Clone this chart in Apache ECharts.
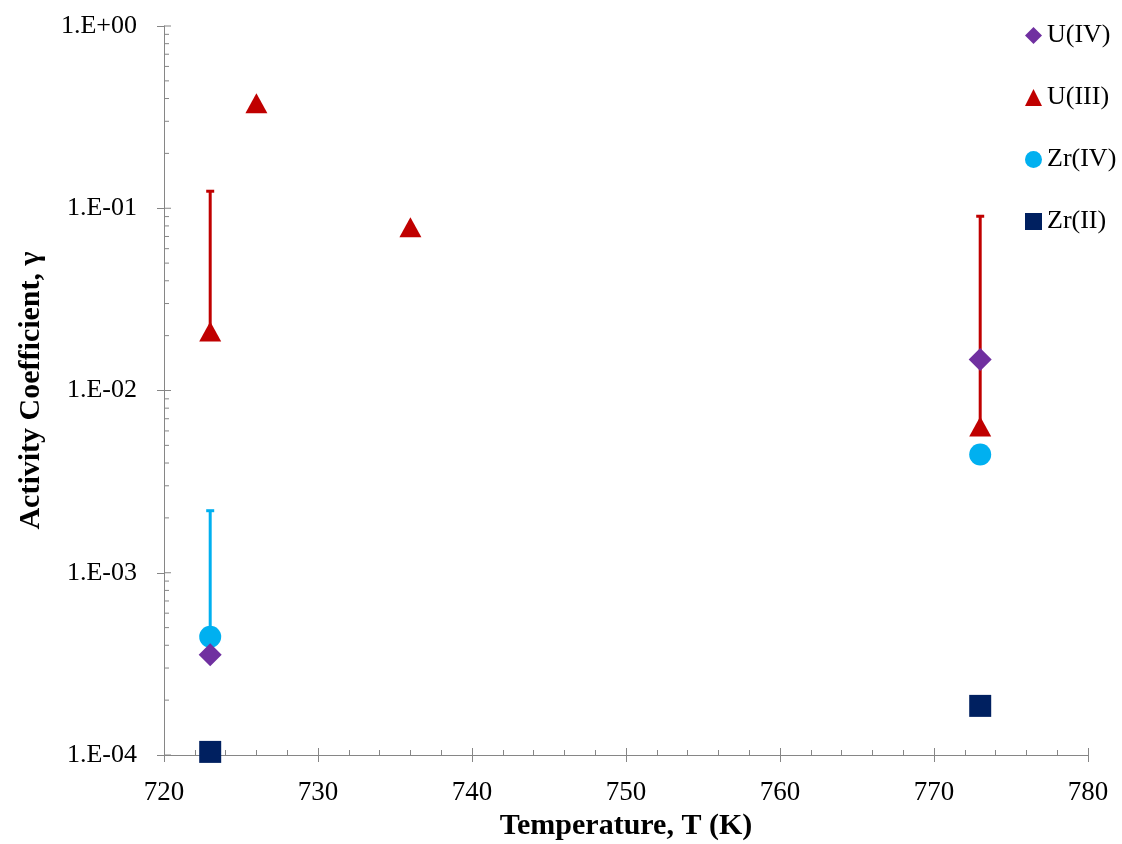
<!DOCTYPE html>
<html><head><meta charset="utf-8">
<script src="https://cdn.jsdelivr.net/npm/echarts@6/dist/echarts.min.js"></script>
<style>html,body{margin:0;padding:0;background:#fff}#c{width:1122px;height:844px}</style>
</head><body><div id="c"></div>
<script>
// Data
const seriesNames = ['U(IV)', 'U(III)', 'Zr(IV)', 'Zr(II)'];
const uIV  = [[723, 3.55e-4], [773, 1.48e-2]];
const uIII = [[723, 0.0211], [726, 0.377], [736, 0.0787], [773, 0.00635]];
const zrIV = [[723, 4.46e-4], [773, 4.46e-3]];
const zrII = [[723, 1.04e-4], [773, 1.86e-4]];
// error bars: [x, value, upper]
const uIIIErr = [[723, 0.0211, 0.124], [773, 0.00635, 0.0904]];
const zrIVErr = [[723, 4.46e-4, 2.19e-3]];
// y-axis inner tick values (log minor + major)
const yMajorTicks = [1e-4, 1e-3, 1e-2, 1e-1, 1];
const yMinorTicks = [
  2e-4,3e-4,4e-4,5e-4,6e-4,7e-4,8e-4,9e-4,
  2e-3,3e-3,4e-3,5e-3,6e-3,7e-3,8e-3,9e-3,
  2e-2,3e-2,4e-2,5e-2,6e-2,7e-2,8e-2,9e-2,
  2e-1,3e-1,4e-1,5e-1,6e-1,7e-1,8e-1,9e-1
];
const colors = { uIV: '#7030A0', uIII: '#C00000', zrIV: '#00B0F0', zrII: '#002060' };

const FONT = 'Liberation Serif';
const AX = '#868686';

function fmtY(v) {
  const e = Math.round(Math.log10(v));
  const s = e >= 0 ? '+' : '-';
  const a = Math.abs(e);
  return '1.E' + s + (a < 10 ? '0' + a : a);
}

function errRender(color) {
  return function (params, api) {
    const x = api.value(0), lo = api.value(1), hi = api.value(2);
    const p1 = api.coord([x, lo]);
    const p2 = api.coord([x, hi]);
    return {
      type: 'group',
      children: [
        { type: 'line', shape: { x1: p1[0], y1: p1[1], x2: p2[0], y2: p2[1] }, style: { stroke: color, lineWidth: 3 } },
        { type: 'line', shape: { x1: p2[0] - 4, y1: p2[1], x2: p2[0] + 4, y2: p2[1] }, style: { stroke: color, lineWidth: 3 } }
      ]
    };
  };
}

function tickRender(len) {
  return function (params, api) {
    const p = api.coord([720, api.value(1)]);
    return { type: 'line', shape: { x1: p[0], y1: p[1], x2: p[0] + len, y2: p[1] }, style: { stroke: AX, lineWidth: 1 } };
  };
}

const chart = echarts.init(document.getElementById('c'), null, { renderer: 'canvas' });
chart.setOption({
  backgroundColor: '#fff',
  animation: false,
  grid: { left: 164, right: 34, top: 26, bottom: 89, containLabel: false, outerBoundsMode: 'none' },
  legend: {
    orient: 'vertical',
    left: 1020, top: 17,
    itemWidth: 17, itemHeight: 17, itemGap: 35,
    data: [
      { name: 'U(IV)', icon: 'diamond' },
      { name: 'U(III)', icon: 'triangle' },
      { name: 'Zr(IV)', icon: 'circle' },
      { name: 'Zr(II)', icon: 'rect' }
    ],
    textStyle: { fontFamily: FONT, fontSize: 26, color: '#000', lineHeight: 27 }
  },
  xAxis: [
    {
      type: 'value', min: 720, max: 780, interval: 10,
      name: 'Temperature, T (K)', nameLocation: 'middle', nameGap: 56,
      nameTextStyle: { fontFamily: FONT, fontSize: 30, fontWeight: 'bold', color: '#000' },
      axisLine: { show: true, lineStyle: { color: AX, width: 1 } },
      axisTick: { show: true, inside: false, length: 7, lineStyle: { color: AX } },
      axisLabel: { fontFamily: FONT, fontSize: 27, color: '#000', margin: 24 },
      splitLine: { show: false }
    },
    {
      type: 'value', min: 720, max: 780, interval: 10, position: 'bottom',
      axisLine: { show: false },
      axisTick: { show: true, inside: true, length: 7, lineStyle: { color: AX } },
      minorTick: { show: true, splitNumber: 5, length: 5, lineStyle: { color: AX } },
      axisLabel: { show: false },
      splitLine: { show: false }
    }
  ],
  yAxis: [
    {
      type: 'log', logBase: 10, min: 1e-4, max: 1, splitNumber: 4,
      name: 'Activity Coefficient, γ', nameLocation: 'middle', nameGap: 118,
      nameTextStyle: { fontFamily: FONT, fontSize: 30, fontWeight: 'bold', color: '#000' },
      axisLine: { show: true, lineStyle: { color: AX, width: 1 } },
      axisTick: { show: true, inside: false, length: 7, lineStyle: { color: AX } },
      axisLabel: { fontFamily: FONT, fontSize: 26, color: '#000', margin: 27, formatter: fmtY },
      splitLine: { show: false }
    }
  ],
  series: [
    { type: 'custom', name: 'yMinor', renderItem: tickRender(5), data: yMinorTicks.map(v => [720, v]), silent: true, z: 0, clip: false, legendHoverLink: false },
    { type: 'custom', name: 'yMajor', renderItem: tickRender(7), data: yMajorTicks.map(v => [720, v]), silent: true, z: 0, clip: false, legendHoverLink: false },
    { type: 'custom', name: 'U(III) err', renderItem: errRender(colors.uIII), data: uIIIErr, z: 1, encode: { x: 0, y: [1, 2] } },
    { type: 'custom', name: 'Zr(IV) err', renderItem: errRender(colors.zrIV), data: zrIVErr, z: 1, encode: { x: 0, y: [1, 2] } },
    { type: 'scatter', name: 'U(IV)', data: uIV, symbol: 'diamond', symbolSize: [23, 23], itemStyle: { color: colors.uIV, opacity: 1 }, z: 3 },
    { type: 'scatter', name: 'U(III)', data: uIII, symbol: 'triangle', symbolSize: [22, 20], itemStyle: { color: colors.uIII, opacity: 1 }, z: 2 },
    { type: 'scatter', name: 'Zr(IV)', data: zrIV, symbol: 'circle', symbolSize: 22, itemStyle: { color: colors.zrIV, opacity: 1 }, z: 2 },
    { type: 'scatter', name: 'Zr(II)', data: zrII, symbol: 'rect', symbolSize: 22, itemStyle: { color: colors.zrII, opacity: 1 }, z: 2 }
  ]
});
</script>
</body></html>
